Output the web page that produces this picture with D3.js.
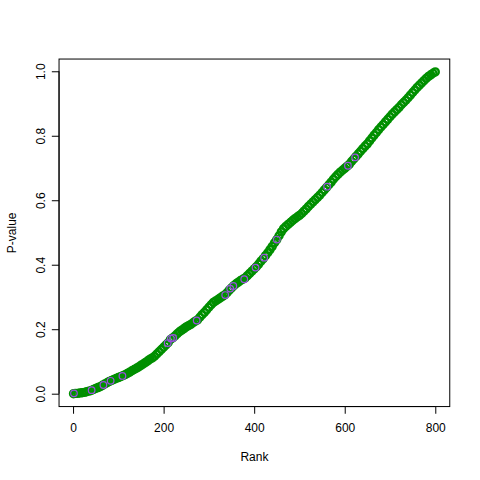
<!DOCTYPE html>
<html>
<head>
<meta charset="utf-8">
<script src="https://cdn.jsdelivr.net/npm/d3@7"></script>
<style>
  html, body { margin: 0; padding: 0; background: #ffffff; }
  svg { display: block; }
  text { font-family: "Liberation Sans", Arial, Helvetica, sans-serif; font-size: 12px; fill: #000; }
</style>
</head>
<body>
<svg id="chart" width="480" height="480"></svg>
<script>
// ---- Data ----
// Ranks sampled every 5 (1, 5, 10, ..., 800)
const ranks = [1].concat(d3.range(5, 801, 5));
const pValues = [
  0.000, 0.001, 0.001, 0.002, 0.003, 0.004, 0.006, 0.008, 0.010, 0.013,
  0.016, 0.019, 0.022, 0.026, 0.030, 0.034, 0.038, 0.041, 0.044, 0.047,
  0.050, 0.053, 0.056, 0.059, 0.063, 0.067, 0.071, 0.075, 0.079, 0.083,
  0.088, 0.092, 0.097, 0.102, 0.107, 0.111, 0.116, 0.123, 0.130, 0.137,
  0.144, 0.151, 0.158, 0.168, 0.173, 0.179, 0.186, 0.192, 0.197, 0.202,
  0.207, 0.211, 0.215, 0.220, 0.225, 0.229, 0.237, 0.245, 0.252, 0.260,
  0.268, 0.276, 0.283, 0.288, 0.292, 0.297, 0.302, 0.306, 0.313, 0.321,
  0.328, 0.335, 0.341, 0.346, 0.351, 0.355, 0.359, 0.366, 0.373, 0.380,
  0.387, 0.394, 0.402, 0.411, 0.419, 0.428, 0.437, 0.447, 0.457, 0.468,
  0.478, 0.490, 0.502, 0.512, 0.519, 0.525, 0.531, 0.537, 0.543, 0.548,
  0.553, 0.559, 0.566, 0.573, 0.581, 0.588, 0.595, 0.602, 0.609, 0.616,
  0.624, 0.632, 0.640, 0.648, 0.656, 0.665, 0.673, 0.680, 0.687, 0.693,
  0.699, 0.705, 0.711, 0.720, 0.728, 0.736, 0.744, 0.752, 0.760, 0.768,
  0.775, 0.784, 0.793, 0.802, 0.810, 0.819, 0.827, 0.835, 0.843, 0.851,
  0.859, 0.867, 0.874, 0.881, 0.888, 0.896, 0.903, 0.910, 0.918, 0.926,
  0.934, 0.942, 0.950, 0.957, 0.964, 0.971, 0.978, 0.984, 0.989, 0.994,
  0.998
];
// Highlighted (purple) points
const hiRanks = [2, 41, 67, 83, 109, 209, 216, 221, 273, 336, 347, 354, 378, 403, 422, 450, 561, 607, 623];
const hiP     = [0.001, 0.011, 0.027, 0.040, 0.055, 0.157, 0.171, 0.173, 0.227, 0.306, 0.326, 0.334, 0.355, 0.391, 0.422, 0.478, 0.642, 0.707, 0.733];

const xTicks = [0, 200, 400, 600, 800];
const yTicks = [0.0, 0.2, 0.4, 0.6, 0.8, 1.0];
const xLabel = "Rank";
const yLabel = "P-value";

(function draw() {
  // ---- Layout (R base graphics defaults at 480x480) ----
  const W = 480, H = 480, LH = 14.4;
  const mL = 4.1 * LH, mR = W - 2.1 * LH, mT = 4.1 * LH, mB = H - 5.1 * LH;

  function rExtend(ext) { const d = (ext[1] - ext[0]) * 0.04; return [ext[0] - d, ext[1] + d]; }

  const x = d3.scaleLinear().domain(rExtend([1, 800])).range([mL, mR]);
  const y = d3.scaleLinear().domain(rExtend(d3.extent(pValues))).range([mB, mT]);

  const svg = d3.select("#chart");

  // Points
  const pts = ranks.map((r, i) => ({ r, p: pValues[i] }));
  svg.append("g").selectAll("circle").data(pts).join("circle")
    .attr("cx", d => x(d.r)).attr("cy", d => y(d.p)).attr("r", 3.5)
    .attr("fill", "none").attr("stroke", "#008f00").attr("stroke-width", 2.4);

  const hi = hiRanks.map((r, i) => ({ r, p: hiP[i] }));
  svg.append("g").selectAll("circle").data(hi).join("circle")
    .attr("cx", d => x(d.r)).attr("cy", d => y(d.p)).attr("r", 3.3)
    .attr("fill", "none").attr("stroke", "#9a4ee0").attr("stroke-width", 1.2);

  // Box
  svg.append("rect").attr("x", mL).attr("y", mT)
    .attr("width", mR - mL).attr("height", mB - mT)
    .attr("fill", "none").attr("stroke", "#000").attr("stroke-width", 1);

  // X axis
  const xAxis = d3.axisBottom(x).tickValues(xTicks).tickSize(7.2).tickPadding(0).tickFormat(d3.format("d"));
  const gx = svg.append("g").attr("transform", `translate(0,${mB})`).call(xAxis);
  gx.select(".domain").attr("d", `M${x(xTicks[0])},0H${x(xTicks[xTicks.length - 1])}`).attr("stroke", "#000");
  gx.selectAll(".tick line").attr("stroke", "#000");
  gx.selectAll(".tick text").attr("dy", null).attr("y", 25)
    .attr("font-size", 12).attr("font-family", "Liberation Sans, Arial, sans-serif").attr("fill", "#000");

  // Y axis
  const yAxis = d3.axisLeft(y).tickValues(yTicks).tickSize(7.2).tickFormat(d3.format(".1f"));
  const gy = svg.append("g").attr("transform", `translate(${mL},0)`).call(yAxis);
  gy.select(".domain").attr("d", `M0,${y(yTicks[0])}V${y(yTicks[yTicks.length - 1])}`).attr("stroke", "#000");
  gy.selectAll(".tick line").attr("stroke", "#000");
  gy.selectAll(".tick text")
    .attr("x", null).attr("dy", null)
    .attr("transform", "translate(-14.2,0) rotate(-90)")
    .attr("text-anchor", "middle")
    .attr("font-size", 12).attr("font-family", "Liberation Sans, Arial, sans-serif").attr("fill", "#000");

  // Axis titles
  svg.append("text").attr("x", (mL + mR) / 2).attr("y", 461)
    .attr("text-anchor", "middle").text(xLabel);
  svg.append("text").attr("transform", `translate(${mL - 3 * LH},${(mT + mB) / 2}) rotate(-90)`)
    .attr("text-anchor", "middle").text(yLabel);
})();
</script>
</body>
</html>
